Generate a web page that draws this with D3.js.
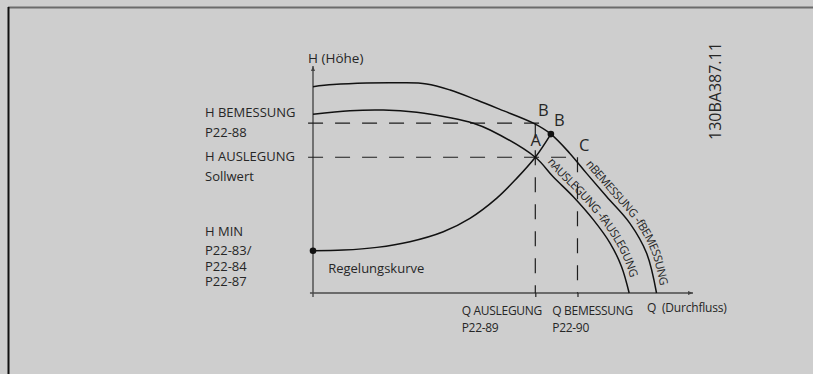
<!DOCTYPE html>
<html>
<head>
<meta charset="utf-8">
<script src="https://cdn.jsdelivr.net/npm/d3@7"></script>
<style>
  html, body { margin: 0; padding: 0; background: #cecece; }
  svg { display: block; }
  text { font-family: "Open Sans", "Noto Sans", sans-serif; fill: #262626; }
</style>
</head>
<body>
<svg id="chart" width="813" height="374"></svg>
<script>
// Pump curves (Q = flow, H = head), in relative units
const nBemessung = [[0,90.9],[5.3,91.8],[14.1,92.5],[22.9,92.6],[29.9,92.1],[36.1,89.4],[43.1,85.0],[49.2,80.9],[58.0,74.8],[62.6,70.0],[67.6,61.5],[72.0,52.7],[77.3,42.4],[83.4,30.7],[87.8,17.5],[90.4,0]];
const nAuslegung = [[0,78.7],[9.7,80.3],[18.5,80.6],[27.3,79.6],[36.1,77.2],[42.2,74.8],[46.6,71.8],[58.5,59.8],[63.2,51.2],[68.5,42.4],[73.8,32.2],[78.2,21.9],[81.2,11.6],[83.2,0]];
const regelungskurve = [[0,18.6],[8,18.9],[16.8,20.1],[25.5,22.6],[34.3,27.0],[41.3,32.9],[48.3,41.7],[53.6,50.5],[58.5,59.8],[62.6,70.0]];

// Operating values
const H_BEM = 74.8, H_AUS = 59.8, H_MIN = 18.6;
const Q_AUS = 58.5, Q_BEM = 69.6;
const pointB = [62.6, 70.0];

// Label texts
const headLabels = ["H BEMESSUNG", "P22-88", "H AUSLEGUNG", "Sollwert", "H MIN", "P22-83/", "P22-84", "P22-87"];
const flowLabels = [["Q AUSLEGUNG", "P22-89"], ["Q BEMESSUNG", "P22-90"]];
const curveNames = ["nAUSLEGUNG -fAUSLEGUNG", "nBEMESSUNG -fBEMESSUNG"];

const svg = d3.select("#chart");
const x = d3.scaleLinear().domain([0, 100]).range([313, 693]);
const y = d3.scaleLinear().domain([0, 100]).range([293, 66]);

// frame
svg.append("line").attr("x1", 8).attr("x2", 813).attr("y1", 7.5).attr("y2", 7.5)
  .attr("stroke", "#6b6b6b").attr("stroke-width", 2);
svg.append("line").attr("x1", 8.5).attr("x2", 8.5).attr("y1", 7).attr("y2", 374)
  .attr("stroke", "#111").attr("stroke-width", 2);

// arrowheads
const defs = svg.append("defs");
defs.append("marker").attr("id", "arrow").attr("viewBox", "0 0 10 10")
  .attr("refX", 10).attr("refY", 5).attr("markerWidth", 7).attr("markerHeight", 5)
  .attr("markerUnits", "userSpaceOnUse").attr("orient", "auto")
  .append("path").attr("d", "M0,1 L10,5 L0,9 Z").attr("fill", "#444");

// axes
const axisColor = "#4a4a4a";
svg.append("line").attr("x1", x(-0.8)).attr("x2", x(100)).attr("y1", y(0)).attr("y2", y(0))
  .attr("stroke", axisColor).attr("stroke-width", 1.4).attr("marker-end", "url(#arrow)");
svg.append("line").attr("x1", x(0)).attr("x2", x(0)).attr("y1", y(-1.8)).attr("y2", y(100))
  .attr("stroke", axisColor).attr("stroke-width", 1.4).attr("marker-end", "url(#arrow)");

const xAxis = svg.append("g").attr("transform", `translate(0,${y(0)})`)
  .call(d3.axisBottom(x).tickValues([Q_AUS, Q_BEM]).tickSize(4).tickSizeOuter(0).tickFormat(""));
xAxis.select(".domain").remove();
xAxis.selectAll(".tick line").attr("stroke", "#222").attr("stroke-width", 1.2);

// dashed guide lines
const dash = "15,12";
const guides = [
  [[-1.3, H_BEM], [60.5, H_BEM]],
  [[-1.3, H_AUS], [Q_BEM, H_AUS]],
  [[Q_AUS, H_BEM], [Q_AUS, 0]],
  [[Q_BEM, H_AUS], [Q_BEM, 0]]
];
svg.append("g").selectAll("line").data(guides).join("line")
  .attr("x1", d => x(d[0][0])).attr("y1", d => y(d[0][1]))
  .attr("x2", d => x(d[1][0])).attr("y2", d => y(d[1][1]))
  .attr("stroke", "#1e1e1e").attr("stroke-width", 1.2).attr("stroke-dasharray", dash);

// curves
const line = d3.line().x(d => x(d[0])).y(d => y(d[1])).curve(d3.curveCatmullRom.alpha(0.5));
const curves = [["cBem", nBemessung], ["cAus", nAuslegung], ["cReg", regelungskurve]];
svg.append("g").selectAll("path").data(curves).join("path")
  .attr("id", d => d[0]).attr("d", d => line(d[1]))
  .attr("fill", "none").attr("stroke", "#111").attr("stroke-width", 1.5);

// points
svg.append("circle").attr("cx", x(0)).attr("cy", y(H_MIN)).attr("r", 3.3).attr("fill", "#111");
svg.append("circle").attr("cx", x(pointB[0])).attr("cy", y(pointB[1])).attr("r", 3.3).attr("fill", "#111");

// labels along the curves: text runs on a parallel copy of the curve, shifted outward
function parallelPath(id, fromX, gap) {
  const node = document.getElementById(id);
  const total = node.getTotalLength();
  const pts = [];
  let tx = 1, ty = 0;
  for (let s = 0; s <= total; s += 2) {
    const p = node.getPointAtLength(s);
    if (p.x < fromX) continue;
    const a = node.getPointAtLength(Math.max(0, s - 1));
    const b = node.getPointAtLength(Math.min(total, s + 1));
    const len = Math.hypot(b.x - a.x, b.y - a.y) || 1;
    tx = (b.x - a.x) / len; ty = (b.y - a.y) / len;
    pts.push([p.x + gap * ty, p.y - gap * tx]);
  }
  // run a little past the end so no glyph is dropped
  const last = pts[pts.length - 1];
  pts.push([last[0] + 30 * tx, last[1] + 30 * ty]);
  return d3.line()(pts);
}
[["cAus", curveNames[0], x(Q_AUS) + 7, "lAus"], ["cBem", curveNames[1], x(Q_BEM) + 4, "lBem"]]
  .forEach(([id, txt, fromX, pid]) => {
    defs.append("path").attr("id", pid).attr("d", parallelPath(id, fromX, 5));
    svg.append("text").attr("font-size", 11.5).attr("letter-spacing", -0.45)
      .append("textPath").attr("href", "#" + pid).text(txt);
  });

// point letters
const letters = [["B", 538, 116], ["B", 554, 125.7], ["A", 530.5, 145.7], ["C", 579, 150.7]];
svg.append("g").selectAll("text").data(letters).join("text")
  .attr("x", d => d[1]).attr("y", d => d[2]).attr("font-size", 16.5).text(d => d[0]);

// axis titles
svg.append("text").attr("x", 308).attr("y", 62.7).attr("font-size", 13.5).text("H (Höhe)");
svg.append("text").attr("x", 647).attr("y", 312.3).attr("font-size", 12).attr("letter-spacing", -0.2)
  .attr("xml:space", "preserve").text("Q  (Durchfluss)");

// head labels left of the axis
const headY = [117.3, 136.7, 161, 181.3, 236, 255, 271, 286];
svg.append("g").selectAll("text").data(headLabels).join("text")
  .attr("x", 205).attr("y", (d, i) => headY[i]).attr("font-size", 13).text(d => d);

svg.append("text").attr("x", x(4)).attr("y", 272.7).attr("font-size", 13).text("Regelungskurve");

// flow labels under the axis
const flowX = [x(Q_AUS) - 73.6, x(Q_BEM) - 25.2];
const fl = svg.append("g").selectAll("g").data(flowLabels).join("g");
fl.append("text").attr("x", (d, i) => flowX[i]).attr("y", 314.7).attr("font-size", 12)
  .attr("letter-spacing", -0.3).text(d => d[0]);
fl.append("text").attr("x", (d, i) => flowX[i]).attr("y", 331.7).attr("font-size", 12)
  .attr("letter-spacing", -0.3).text(d => d[1]);

// drawing number
svg.append("text").attr("transform", "translate(720.7,140) rotate(-90)")
  .attr("font-family", "Liberation Sans, Arial, sans-serif").attr("font-size", 16)
  .attr("fill", "#3a3a3a").text("130BA387.11");
</script>
</body>
</html>
